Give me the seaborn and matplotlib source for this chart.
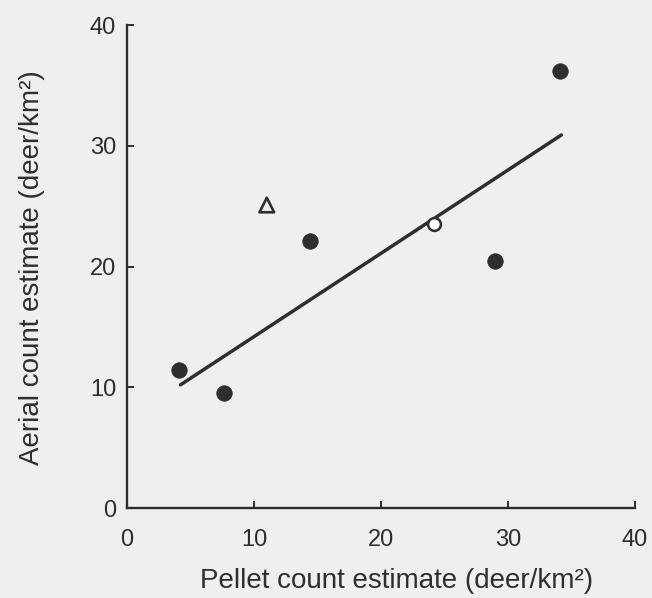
import matplotlib
matplotlib.use("Agg")
import matplotlib.pyplot as plt
import seaborn as sns
import pandas as pd

# Data
filled_x = [4.1, 7.6, 14.4, 29.0, 34.1]
filled_y = [11.4, 9.5, 22.1, 20.5, 36.2]
open_circle_x = [24.2]
open_circle_y = [23.5]
triangle_x = [11.0]
triangle_y = [25.1]
fit_x = [4.2, 34.2]
fit_y = [10.2, 30.9]
ticks = [0, 10, 20, 30, 40]
xlabel = "Pellet count estimate (deer/km²)"
ylabel = "Aerial count estimate (deer/km²)"

sns.set_theme(style="ticks")
plt.rcParams['font.family'] = ['Liberation Sans', 'DejaVu Sans']

bg = "#f0efed"
ink = "#2e2e2e"

fig = plt.figure(figsize=(6.52, 5.98), dpi=100, facecolor=bg)
ax = fig.add_axes([0.195, 0.1505, 0.779, 0.8075])
ax.set_facecolor(bg)

df_filled = pd.DataFrame({"x": filled_x, "y": filled_y})
df_open = pd.DataFrame({"x": open_circle_x, "y": open_circle_y})
df_tri = pd.DataFrame({"x": triangle_x, "y": triangle_y})
df_fit = pd.DataFrame({"x": fit_x, "y": fit_y})

sns.lineplot(data=df_fit, x="x", y="y", ax=ax, color=ink, linewidth=2.5, zorder=2)
sns.scatterplot(data=df_filled, x="x", y="y", ax=ax, color=ink, s=125,
                edgecolor=ink, linewidth=0.5, zorder=3)
sns.scatterplot(data=df_open, x="x", y="y", ax=ax, facecolor="white", s=85,
                edgecolor=ink, linewidth=1.8, zorder=3)
sns.scatterplot(data=df_tri, x="x", y="y", ax=ax, marker="^", facecolor="none",
                s=110, edgecolor=ink, linewidth=1.9, zorder=3)

ax.set_xlim(0, 40)
ax.set_ylim(0, 40)
ax.set_xticks(ticks)
ax.set_yticks(ticks)
ax.set_xticklabels([str(t) for t in ticks])
ax.set_yticklabels([str(t) for t in ticks])
ax.tick_params(axis="x", direction="in", length=5, width=1.4, colors=ink,
               labelsize=17, pad=15)
ax.tick_params(axis="y", direction="in", length=5, width=1.4, colors=ink,
               labelsize=17, pad=8)
for s in ["top", "right"]:
    ax.spines[s].set_visible(False)
for s in ["left", "bottom"]:
    ax.spines[s].set_color(ink)
    ax.spines[s].set_linewidth(1.7)

ax.set_xlabel(xlabel, fontsize=20, color=ink)
ax.set_ylabel(ylabel, fontsize=20, color=ink)
ax.xaxis.set_label_coords(0.53, -0.125)
ax.yaxis.set_label_coords(-0.162, 0.497)

fig.savefig("out.png", dpi=100, facecolor=bg)
